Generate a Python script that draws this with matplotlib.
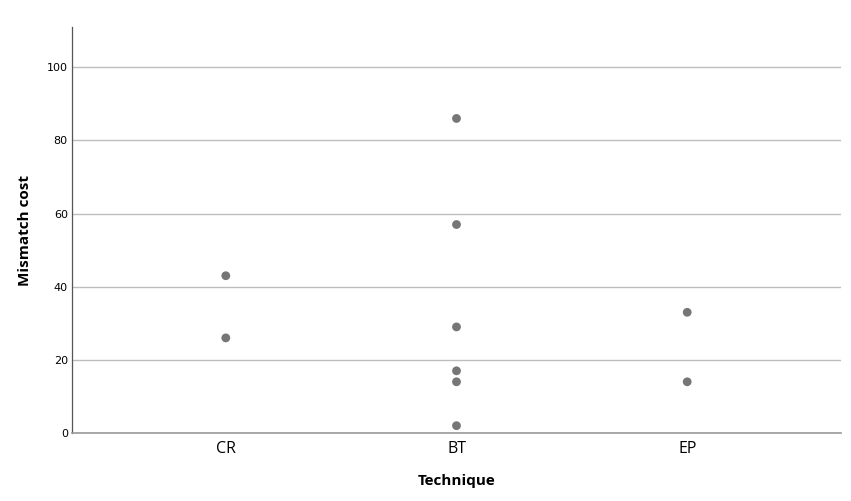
import matplotlib
matplotlib.use("Agg")
import matplotlib.pyplot as plt

categories = ["CR", "BT", "EP"]
cr_values = [43, 26]
bt_values = [86, 57, 29, 17, 14, 2]
ep_values = [33, 14]
y_ticks = [0, 20, 40, 60, 80, 100]

W, H = 851, 501
fig = plt.figure(figsize=(W / 100, H / 100), dpi=100)
ax = fig.add_axes([72 / W, (H - 433) / H, (841 - 72) / W, (433 - 27) / H])

series = [cr_values, bt_values, ep_values]
for i, vals in enumerate(series):
    ax.scatter([i] * len(vals), vals, s=40, color="#767676", edgecolors="none", zorder=3)

ax.set_xlim(-2 / 3, 2 + 2 / 3)
ax.set_ylim(0, 111)
ax.set_xticks(range(len(categories)))
ax.set_xticklabels(categories, fontsize=11.5, family="Open Sans", fontstretch="normal")
ax.set_yticks(y_ticks)
ax.set_yticklabels([str(t) for t in y_ticks], fontsize=8, family="DejaVu Sans")
ax.tick_params(axis="both", length=0)
ax.tick_params(axis="x", pad=6)
ax.tick_params(axis="y", pad=3)

ax.yaxis.grid(True, color="#bdbdbd", linewidth=1.0)
ax.set_axisbelow(True)
for s in ["top", "right"]:
    ax.spines[s].set_visible(False)
ax.spines["left"].set_color("#555555")
ax.spines["left"].set_linewidth(0.9)
ax.spines["bottom"].set_color("#999999")
ax.spines["bottom"].set_linewidth(1.2)

ax.set_xlabel("Technique", fontsize=11, family="Open Sans", fontweight="bold",
              fontstretch="normal", labelpad=12)
ax.set_ylabel("Mismatch cost", fontsize=11, family="Open Sans", fontweight="bold",
              fontstretch="normal", labelpad=11)

fig.savefig("out.png", dpi=100)
